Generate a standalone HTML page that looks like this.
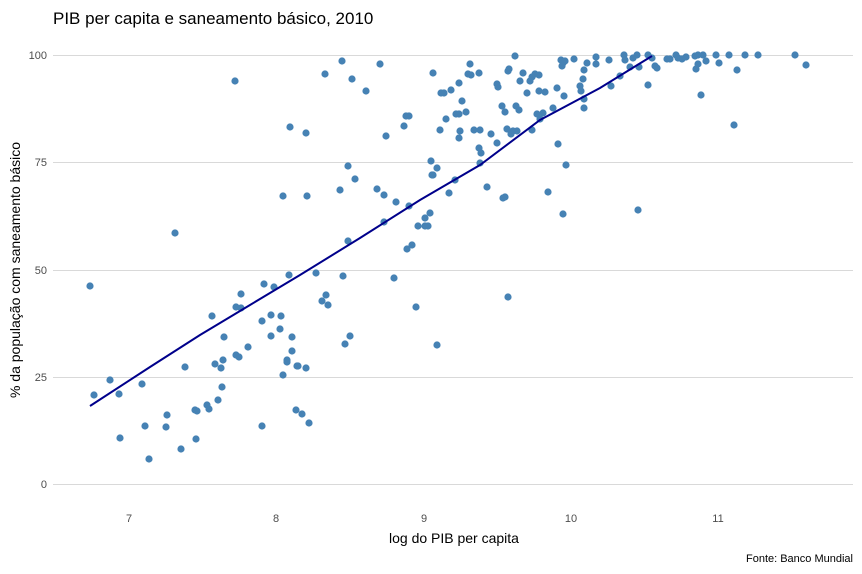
<!DOCTYPE html>
<html><head><meta charset="utf-8"><style>body{margin:0;background:#fff}svg{display:block;font-family:"Liberation Sans",sans-serif}</style></head><body>
<svg width="862" height="574" viewBox="0 0 862 574">
<rect width="862" height="574" fill="#fff"/>
<text x="53" y="24" font-size="17" fill="#000">PIB per capita e saneamento básico, 2010</text>
<g stroke="#d9d9d9" stroke-width="1">
<line x1="53" x2="853" y1="484.5" y2="484.5"/><line x1="53" x2="853" y1="377.5" y2="377.5"/><line x1="53" x2="853" y1="270.5" y2="270.5"/><line x1="53" x2="853" y1="162.5" y2="162.5"/><line x1="53" x2="853" y1="55.5" y2="55.5"/>
</g>
<g font-size="11" fill="#4d4d4d" text-anchor="end">
<text x="47" y="488">0</text><text x="47" y="381">25</text><text x="47" y="274">50</text><text x="47" y="166">75</text><text x="47" y="59">100</text>
</g>
<g font-size="11" fill="#4d4d4d" text-anchor="middle">
<text x="129" y="522">7</text><text x="276" y="522">8</text><text x="424" y="522">9</text><text x="571" y="522">10</text><text x="718" y="522">11</text>
</g>
<text x="454" y="543" font-size="14" text-anchor="middle" fill="#000">log do PIB per capita</text>
<text transform="translate(20,270) rotate(-90)" font-size="14" text-anchor="middle" fill="#000">% da população com saneamento básico</text>
<text x="853" y="562" font-size="11" text-anchor="end" fill="#000">Fonte: Banco Mundial</text>
<g fill="#4682b4" id="pts"></g>
<polyline fill="none" stroke="#00008b" stroke-width="2" points="90,406 150,367 200,335 250,305 300,275 360,238 420,200 480,165 540,120 600,88 652,56"/>
</svg>
<script>
var p=[[90,286],[94,395],[110,380],[119,394],[120,438],[142,384],[145,426],[149,459],[166,427],[167,415],[175,233],[181,449],[185,367],[195,410],[197,411],[196,439],[207,405],[209,409],[212,316],[215,364],[218,400],[221,368],[222,387],[223,360],[224,337],[235,81],[236,355],[239,357],[236,307],[241,308],[241,294],[248,347],[262,321],[262,426],[264,284],[271,315],[271,336],[274,287],[280,329],[281,316],[283,375],[283,196],[287,360],[287,362],[289,275],[290,127],[292,337],[292,351],[296,410],[297,366],[298,366],[302,414],[306,368],[306,133],[307,196],[309,423],[316,273],[322,301],[325,74],[326,295],[328,305],[340,190],[342,61],[343,276],[345,344],[348,166],[348,241],[350,336],[352,79],[355,179],
[366,91],[377,189],[380,64],[384,195],[384,222],[386,136],[394,278],[396,202],[404,126],[406,116],[409,116],[409,206],[407,249],[412,245],[416,307],[418,226],[425,218],[425,226],[428,226],[430,213],[431,161],[432,175],[433,175],[433,73],[437,168],[437,345],[440,130],[441,93],[444,93],[446,119],[449,193],[451,90],[455,180],[456,114],[459,114],[459,83],[459,138],[460,131],[462,101],[466,112],[468,74],[470,64],[471,75],[474,130],[479,73],[479,148],[480,130],[481,153],[480,163],[487,187],[491,134],[497,84],[498,87],[497,143],[502,106],[503,198],[505,197],[505,112],[508,297],[507,129],[508,71],[509,69],[511,134],[513,131],[515,56],[516,106],[517,131],[519,110],[520,81],[523,73],[527,93],[530,81],[532,130],[532,77],[535,74],[537,114],[539,75],[539,91],[540,119],[543,113],[545,92],[548,192],[553,108],[557,88],[558,144],[561,60],[562,66],[565,61],[563,214],[564,96],[566,165],[574,59],[580,86],[581,91],[583,79],[584,70],[584,108],[584,99],[587,63],[596,57],[596,64],[563,63],
[609,60],[611,86],[620,76],[624,55],[625,60],[630,67],[633,58],[637,55],[638,210],[639,67],[648,55],[648,85],[652,58],[655,66],[657,68],[667,59],[670,59],[676,55],[678,58],[682,59],[686,57],[695,56],[698,55],[696,69],[698,64],[701,95],[703,55],[706,61],[716,55],[719,63],[729,55],[734,125],[737,70],[745,55],[758,55],[795,55],[806,65]];
var g=document.getElementById('pts'),s='';
p.forEach(function(a){s+='<circle cx="'+a[0]+'" cy="'+a[1]+'" r="3.6"/>';});
g.innerHTML=s;
</script>
</body></html>
